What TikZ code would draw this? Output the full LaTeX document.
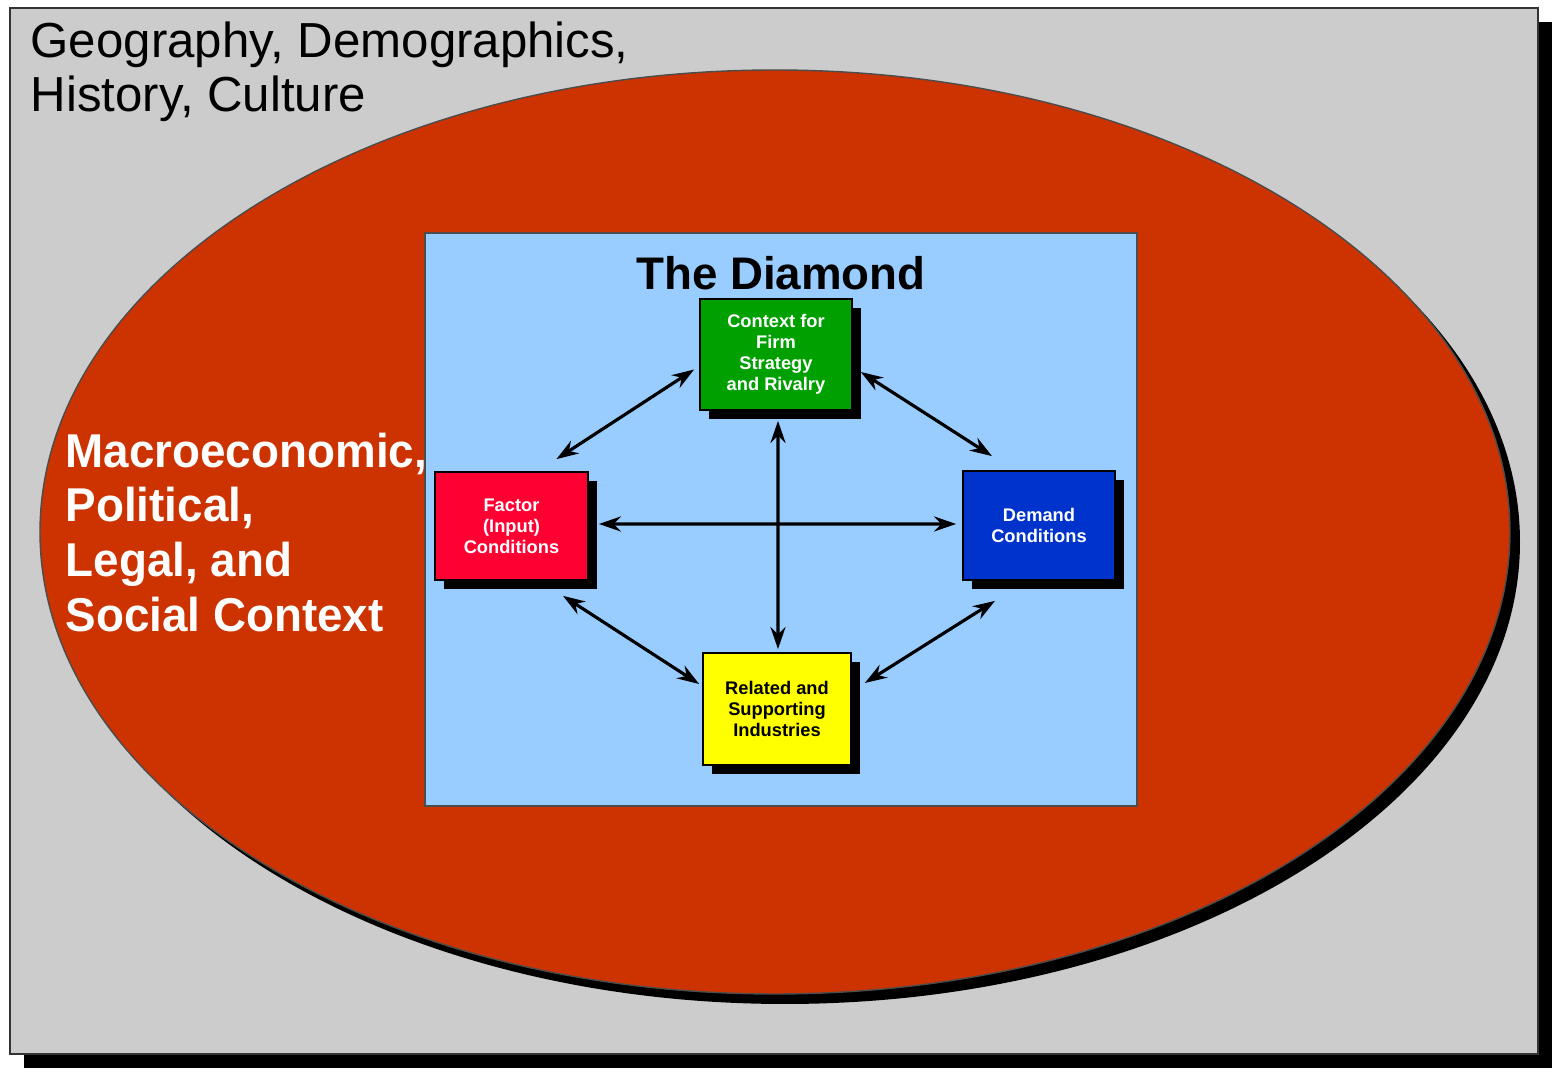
\documentclass[tikz,border=0pt]{standalone}
\usepackage{fontspec}
\setmainfont{Liberation Sans}
\newfontfamily\narrowsans[FakeStretch=0.965]{Liberation Sans}
\usepackage{tikz}
\usetikzlibrary{arrows.meta,positioning,shapes.geometric,shadows}
\definecolor{ctxgray}{HTML}{CCCCCC}
\definecolor{ctxred}{HTML}{CC3300}
\definecolor{dmdsky}{HTML}{99CCFF}
\definecolor{dmdgreen}{HTML}{00A000}
\definecolor{dmdred}{HTML}{FF0033}
\definecolor{dmdblue}{HTML}{0033CC}
\definecolor{dmdyellow}{HTML}{FFFF00}
\begin{document}
\begin{tikzpicture}[
  blackshadow/.style={drop shadow={shadow xshift=#1,shadow yshift=-#1,fill=black,opacity=1}},
  dbox/.style={draw=black,line width=0.5pt,minimum width=1.52cm,minimum height=1.09cm,align=center,font=\bfseries\fontsize{5.2}{6}\selectfont,inner sep=1pt,blackshadow=0.9mm},
  arr/.style={<->,line width=0.9pt},
  >={Stealth[length=2.2mm,width=1.5mm]}]
  \useasboundingbox (0,0) rectangle (15.66,-10.72);
  % layers: outer frame, context ellipse, diamond panel
  \node[draw=black!80,fill=ctxgray,minimum width=15.28cm,minimum height=10.46cm,blackshadow=1.4mm] (world) at (7.74,-5.31) {};
  \node[ellipse,draw=black!70,fill=ctxred,minimum width=14.70cm,minimum height=9.24cm,blackshadow=1mm] (ctx) at (7.75,-5.32) {};
  \node[draw=black!70,fill=dmdsky,minimum width=7.12cm,minimum height=5.73cm] (dmd) at (7.81,-5.195) {};
  \node[anchor=north west,inner sep=0,align=left,font=\fontsize{14}{15.3}\selectfont] (geo) at (0.30,-0.21) {Geography, Demographics,\\History, Culture};
  \node[anchor=north west,inner sep=0,align=left,text=white,font=\narrowsans\bfseries\fontsize{13.5}{15.6}\selectfont] (macro) at (0.65,-4.32) {Macroeconomic,\\Political,\\Legal, and\\Social Context};
  \node[anchor=base,font=\bfseries\fontsize{13}{15}\selectfont] (title) at (7.81,-2.90) {The Diamond};
  % the four determinants
  \node[dbox,fill=dmdgreen,text=white,minimum height=1.11cm] (strat) at (7.76,-3.545) {Context for\\Firm\\Strategy\\and Rivalry};
  \node[dbox,fill=dmdred,text=white,minimum width=1.53cm,minimum height=1.08cm] (inputs) at (5.115,-5.26) {Factor\\(Input)\\Conditions};
  \node[dbox,fill=dmdblue,text=white] (demand) at (10.39,-5.255) {Demand\\Conditions};
  \node[dbox,fill=dmdyellow,minimum width=1.48cm,minimum height=1.12cm] (related) at (7.77,-7.09) {Related and\\Supporting\\Industries};
  \draw[arr] ([xshift=-0.5mm,yshift=-1.5mm]strat.west) -- ([xshift=4.5mm,yshift=1.2mm]inputs.north);
  \draw[arr] ([xshift=0.8mm,yshift=-1.75mm]strat.east) -- ([xshift=-4.7mm,yshift=1.4mm]demand.north);
  \draw[arr] ([xshift=5.15mm,yshift=-1.5mm]inputs.south) -- ([xshift=-0.3mm,yshift=2.5mm]related.west);
  \draw[arr] ([xshift=-4.4mm,yshift=-2mm]demand.south) -- ([xshift=1.3mm,yshift=2.6mm]related.east);
  \draw[arr] ([xshift=0.2mm,yshift=-1mm]strat.south) -- ([xshift=0.1mm,yshift=0.3mm]related.north);
  \draw[arr] ([xshift=1mm,yshift=0.2mm]inputs.east) -- ([xshift=-0.6mm,yshift=0.15mm]demand.west);
\end{tikzpicture}
\end{document}
